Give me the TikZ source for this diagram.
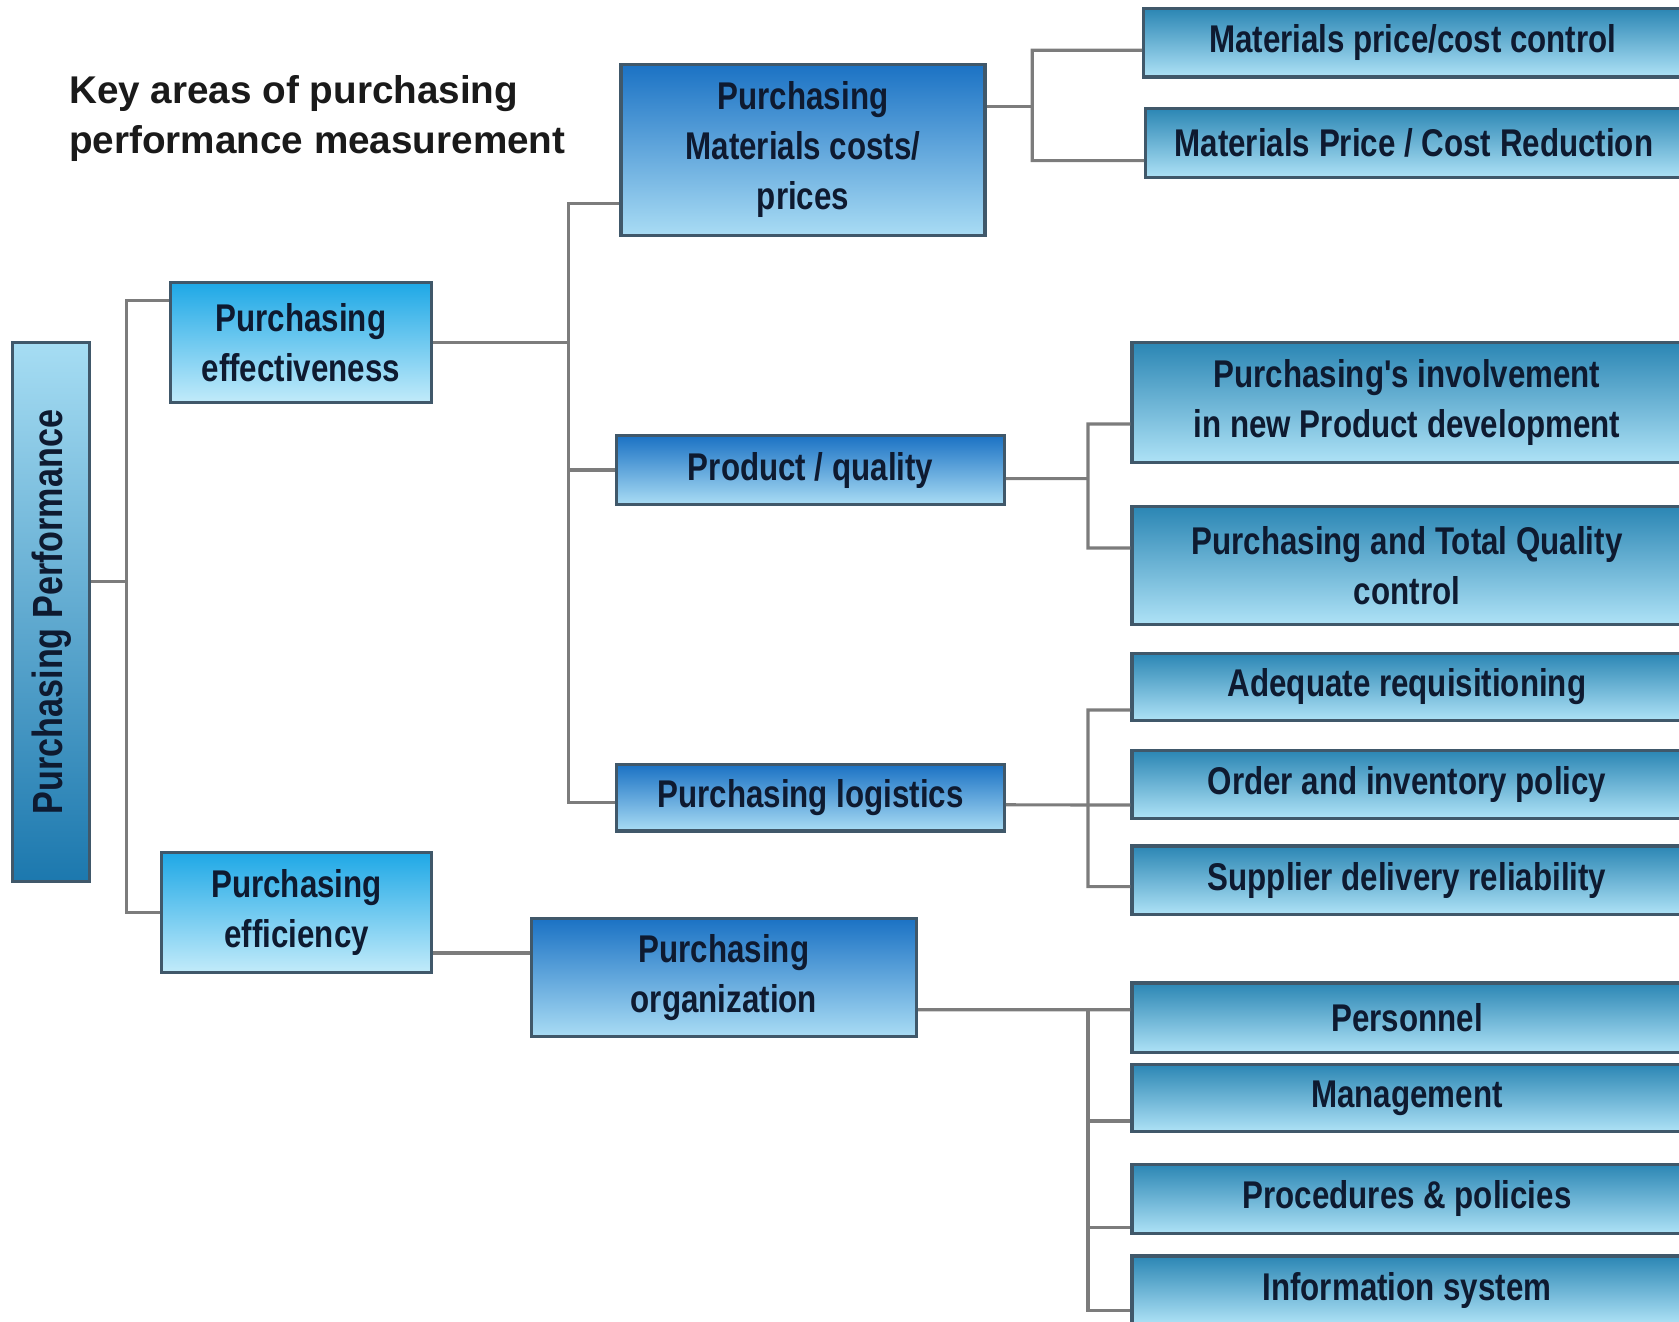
\documentclass[tikz,border=0pt]{standalone}
\usepackage{fontspec}
\setmainfont{Liberation Sans}
\newfontfamily\narrowfont{Liberation Sans}[FakeStretch=0.81]

\definecolor{effTop}{HTML}{1EA8E6}
\definecolor{effBot}{HTML}{C2EBFA}
\definecolor{midTop}{HTML}{1B72C4}
\definecolor{midBot}{HTML}{A9DCF4}
\definecolor{leafTop}{HTML}{2B86B4}
\definecolor{leafBot}{HTML}{AEE2F6}
\definecolor{ppTop}{HTML}{A6DDF3}
\definecolor{ppBot}{HTML}{1C78AE}
\definecolor{boxline}{HTML}{40586A}
\definecolor{linegray}{HTML}{7C7C7C}
\definecolor{boxtext}{HTML}{0E1A30}
\definecolor{titletext}{HTML}{1A1A1A}

\tikzset{
  box/.style={draw=boxline, line width=0.9pt, align=center, inner sep=1pt,
    text=boxtext, font=\narrowfont\bfseries\fontsize{11}{14.2}\selectfont},
  effbox/.style={box, top color=effTop, bottom color=effBot},
  midbox/.style={box, top color=midTop, bottom color=midBot},
  leafbox/.style={box, top color=leafTop, bottom color=leafBot, minimum width=5.5cm},
  link/.style={draw=linegray, line width=0.9pt},
  heading/.style={align=left, inner sep=0pt, text=titletext,
    font=\bfseries\fontsize{11}{14.2}\selectfont}
}

\begin{document}
\begin{tikzpicture}
  \useasboundingbox (0,0) rectangle (16.79,-13.21);
  \clip (0,0) rectangle (16.79,-13.21);

  % Title
  \node[heading, anchor=north west] (title) at (0.685,-0.75)
    {Key areas of purchasing\\performance measurement};

  % Root and first level
  \node[box, top color=ppTop, bottom color=ppBot, minimum width=0.77cm,
    minimum height=5.386cm, font=\narrowfont\bfseries\fontsize{12}{14}\selectfont]
    (pp) at (0.514,-6.12) {\rotatebox{90}{Purchasing Performance}};
  \node[effbox, minimum width=2.61cm, minimum height=1.20cm] (eff) at (3.009,-3.427)
    {Purchasing\\effectiveness};
  \node[effbox, minimum width=2.70cm, minimum height=1.20cm] (effic) at (2.966,-9.123)
    {Purchasing\\efficiency};

  % Second level
  \node[midbox, minimum width=3.64cm, minimum height=1.713cm] (mat) at (8.03,-1.499)
    {Purchasing\\Materials costs/\\prices};
  \node[midbox, minimum width=3.876cm, minimum height=0.685cm] (pq) at (8.106,-4.70)
    {Product / quality};
  \node[midbox, minimum width=3.876cm, minimum height=0.664cm] (pl) at (8.106,-7.978)
    {Purchasing logistics};
  \node[midbox, minimum width=3.855cm, minimum height=1.178cm] (po) at (7.239,-9.776)
    {Purchasing\\organization};

  % Leaves
  \node[leafbox, minimum width=5.384cm, minimum height=0.685cm] (mpc) at (14.128,-0.428)
    {Materials price/cost control};
  \node[leafbox, minimum width=5.362cm, minimum height=0.696cm] (mpcr) at (14.139,-1.43)
    {Materials Price / Cost Reduction};
  \node[leafbox, minimum height=1.20cm] (inv) at (14.07,-4.026)
    {Purchasing's involvement\\in new Product development};
  \node[leafbox, minimum height=1.178cm] (tqc) at (14.07,-5.654)
    {Purchasing and Total Quality\\control};
  \node[leafbox, minimum height=0.674cm] (req) at (14.07,-6.869) {Adequate requisitioning};
  \node[leafbox, minimum height=0.675cm] (ord) at (14.07,-7.844) {Order and inventory policy};
  \node[leafbox, minimum height=0.685cm] (sup) at (14.07,-8.802) {Supplier delivery reliability};
  \node[leafbox, minimum height=0.696cm] (pers) at (14.07,-10.178) {Personnel};
  \node[leafbox, minimum height=0.674cm] (mgmt) at (14.07,-10.98) {Management};
  \node[leafbox, minimum height=0.694cm] (proc) at (14.07,-11.989) {Procedures \& policies};
  \node[leafbox, minimum height=0.68cm] (info) at (14.07,-12.90) {Information system};

  % Connectors
  \coordinate (bus1) at (1.264,-5.814);
  \draw[link] ([yshift=0.306cm]pp.east) -- (bus1);
  \draw[link] ([yshift=0.418cm]eff.west) -| (1.264,-9.123) -- (effic.west);

  \coordinate (bus2) at (5.686,-3.427);
  \draw[link] (eff.east) -- (bus2);
  \draw[link] ([yshift=-0.536cm]mat.west) -| (5.686,-8.028) -- ([yshift=-0.05cm]pl.west);
  \draw[link] (bus2) |- (pq.west);

  \coordinate (bus3) at (10.323,-1.069);
  \draw[link] ([yshift=0.43cm]mat.east) -- (bus3);
  \draw[link] ([yshift=-0.075cm]mpc.west) -| (10.323,-1.606) -- ([yshift=-0.176cm]mpcr.west);

  \coordinate (bus4) at (10.88,-4.786);
  \draw[link] ([yshift=-0.086cm]pq.east) -- (bus4);
  \draw[link] ([yshift=-0.214cm]inv.west) -| (10.88,-5.48) -- ([yshift=0.174cm]tqc.west);

  \coordinate (bus5) at (10.88,-8.048);
  \draw[link] ([yshift=-0.07cm]pl.east) -- ([yshift=-0.206cm]ord.west);
  \draw[link] ([yshift=-0.231cm]req.west) -| (10.88,-8.866) -- ([yshift=-0.064cm]sup.west);

  \draw[link] ([yshift=-0.407cm]effic.east) -- ([yshift=0.246cm]po.west);

  \coordinate (bus6) at (10.88,-10.098);
  \draw[link] ([yshift=-0.322cm]po.east) -- ([yshift=0.08cm]pers.west);
  \draw[link] (bus6) |- ([yshift=-0.207cm]info.west);
  \draw[link] (bus6) |- ([yshift=-0.23cm]mgmt.west);
  \draw[link] (bus6) |- ([yshift=-0.29cm]proc.west);
\end{tikzpicture}
\end{document}
